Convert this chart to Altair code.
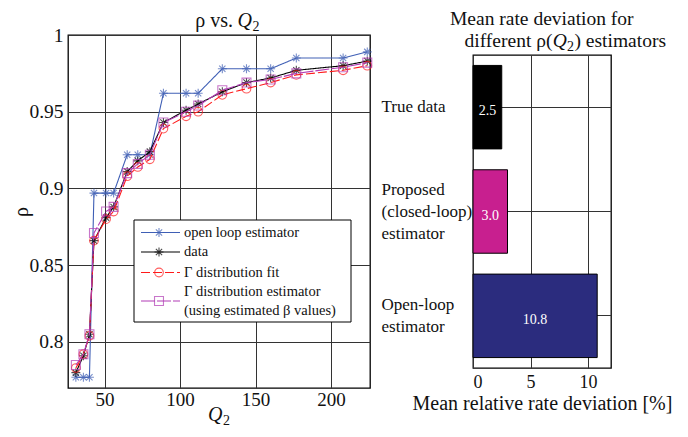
import altair as alt
import pandas as pd

FONT = "Liberation Serif"

# ---------------- data: left panel ----------------
q2 = [31, 36, 40, 43, 51, 56, 65, 72, 80, 89, 104, 112, 128, 144, 160, 177, 208, 224]
open_loop = [0.777, 0.777, 0.777, 0.897, 0.897, 0.897, 0.922, 0.922, 0.922,
             0.962, 0.962, 0.962, 0.978, 0.978, 0.978, 0.985, 0.985, 0.989]
data_rho = [0.780, 0.791, 0.805, 0.866, 0.881, 0.888, 0.911, 0.918, 0.924,
            0.943, 0.951, 0.955, 0.963, 0.969, 0.972, 0.977, 0.980, 0.983]
gamma_fit = [0.783, 0.792, 0.804, 0.866, 0.880, 0.885, 0.908, 0.914, 0.919,
             0.939, 0.947, 0.950, 0.961, 0.965, 0.969, 0.974, 0.977, 0.980]
gamma_est = [0.785, 0.792, 0.805, 0.871, 0.885, 0.888, 0.910, 0.916, 0.922,
             0.943, 0.950, 0.954, 0.964, 0.969, 0.971, 0.975, 0.979, 0.982]

series_names = ["open loop estimator", "data", "Γ distribution fit",
                "Γ distribution estimator"]
series_colors = ["#3f5fb5", "#000000", "#ff1a1a", "#b23db5"]
series_dash = [[1, 0], [1, 0], [9, 3], [14, 2]]

# ---------------- data: right panel ----------------
bar_labels = ["True data", "Proposed|(closed-loop)|estimator", "Open-loop|estimator"]
bar_values = [2.5, 3.0, 10.8]
bar_colors = ["#000000", "#c81f8f", "#2b2c7e"]

STAR = "M-1,0L1,0M0,-1L0,1M-0.7,-0.7L0.7,0.7M-0.7,0.7L0.7,-0.7"
shapes = [STAR, STAR, "circle", "square"]
sizes = [80, 80, 75, 80]

one = alt.Data(values=[{"a": 1}])


def txt(t, x, y, size, align="left", style="normal", baseline="alphabetic",
        color="#111", angle=0):
    return alt.Chart(one).mark_text(
        text=t, align=align, baseline=baseline, font=FONT, fontSize=size,
        fontStyle=style, color=color, angle=angle).encode(
        x=alt.value(x), y=alt.value(y))


x_scale = alt.Scale(domain=[25.8, 225.8], nice=False, zero=False)
y_scale = alt.Scale(domain=[0.77, 1.0], nice=False, zero=False)
x_axis = alt.Axis(values=[50, 100, 150, 200], title=None, labelFontSize=19,
                  labelPadding=2)
y_axis = alt.Axis(values=[0.8, 0.85, 0.9, 0.95, 1.0], format=".2~f", title=None,
                  labelFontSize=19.5, labelPadding=5)
X = alt.X("Q2:Q", scale=x_scale, axis=x_axis)
Y = alt.Y("rho:Q", scale=y_scale, axis=y_axis)

layers = []
all_series = [open_loop, data_rho, gamma_fit, gamma_est]
for i, (name, vals) in enumerate(zip(series_names, all_series)):
    df = pd.DataFrame({"Q2": q2, "rho": vals, "series": name})
    base = alt.Chart(df)
    line = base.mark_line(color=series_colors[i], strokeWidth=1.1,
                          strokeDash=series_dash[i]).encode(x=X, y=Y)
    pts = base.mark_point(shape=shapes[i], size=sizes[i], filled=False,
                          color=series_colors[i], strokeWidth=1.1).encode(x=X, y=Y)
    layers += [line, pts]

# ---------------- legend (drawn inside the plot) ----------------
leg_box = alt.Chart(one).mark_rect(fill="white", stroke="black", strokeWidth=1).encode(
    x=alt.value(66), x2=alt.value(283), y=alt.value(185), y2=alt.value(287))
layers.append(leg_box)
marker_y = [197.5, 217, 237.5, 266]
for i in range(4):
    layers.append(alt.Chart(one).mark_rule(color=series_colors[i], strokeWidth=1.1,
                                           strokeDash=series_dash[i]).encode(
        x=alt.value(73), x2=alt.value(112), y=alt.value(marker_y[i])))
    layers.append(alt.Chart(one).mark_point(shape=shapes[i], size=sizes[i], filled=False,
                                            color=series_colors[i], strokeWidth=1.1).encode(
        x=alt.value(91), y=alt.value(marker_y[i])))
legend_text = ["open loop estimator", "data", "Γ distribution fit",
               "Γ distribution estimator", "(using estimated β values)"]
text_y = [197.5, 217, 237.5, 256.5, 275.5]
for t, yy in zip(legend_text, text_y):
    layers.append(txt(t, 116, yy, 14.5, baseline="middle"))

# titles of the left panel
layers += [
    txt("ρ vs.", 165, -8.5, 20, align="right"),
    txt("Q", 169.5, -8.5, 20, style="italic"),
    txt("2", 184.5, -4.5, 14),
    txt("Q", 140, 385.5, 20, style="italic"),
    txt("2", 155, 389.5, 14),
    txt("ρ", -46.5, 177, 20, align="center", baseline="middle", angle=270),
]

left = alt.layer(*layers).properties(width=302, height=353)

# ---------------- right panel ----------------
bdf = pd.DataFrame({"cat": bar_labels, "val": bar_values})
rbase = alt.Chart(bdf)
label_shift = {
    "condition": [
        {"test": "indexof(datum.value, 'Proposed') >= 0", "value": -22},
        {"test": "indexof(datum.value, 'Open') >= 0", "value": -11},
    ],
    "value": 0,
}
y_band = alt.Y("cat:N", sort=bar_labels,
               scale=alt.Scale(paddingInner=0.2, paddingOuter=0.1),
               axis=alt.Axis(title=None, labelExpr="split(datum.label, '|')",
                             labelAlign="left", labelPadding=92, ticks=False,
                             labelFontSize=17, labelLineHeight=22, domain=False,
                             labelBaseline="middle", labelOffset=label_shift))
x_bar = alt.X("val:Q", scale=alt.Scale(domain=[0, 12], nice=False),
              axis=alt.Axis(values=[0, 5, 10], title="Mean relative rate deviation [%]",
                            labelFontSize=18, labelPadding=5, titleFontSize=20,
                            titlePadding=2))
bars = rbase.mark_bar(stroke="black", strokeWidth=1).encode(
    x=x_bar, y=y_band,
    color=alt.Color("cat:N", scale=alt.Scale(domain=bar_labels, range=bar_colors),
                    legend=None))
labels = rbase.transform_calculate(mid="datum.val / 2").mark_text(
    color="white", font=FONT, fontSize=14, baseline="middle", dy=4).encode(
    x=alt.X("mid:Q", scale=alt.Scale(domain=[0, 12], nice=False)),
    y=alt.Y("cat:N", sort=bar_labels), text=alt.Text("val:Q", format=".1f"))

rtitle = [
    txt("Mean rate deviation for", 68.8, -30.0, 19.5, align="center"),
    txt("different ρ(", 79.4, -8.3, 19.5, align="right"),
    txt("Q", 79.8, -8.3, 19.5, style="italic"),
    txt("2", 94.0, -4.3, 14),
    txt(") estimators", 101.5, -8.3, 19.5),
]

right = alt.layer(bars, labels, *rtitle).properties(width=138, height=313)

chart = alt.hconcat(left, right, spacing=103, bounds="flush", center=True).configure(
    font=FONT, padding={"left": 2, "top": 0, "right": 5, "bottom": 5}
).configure_view(stroke="black", strokeWidth=1.3).configure_axis(
    labelFont=FONT, titleFont=FONT, labelFontSize=17, titleFontSize=18,
    labelColor="#111", titleColor="#111", titleFontWeight="normal",
    grid=True, gridColor="#333", gridWidth=1, gridOpacity=1,
    domain=False, ticks=False, labelPadding=4, titlePadding=4
)

chart.save("out.html", embed_options={"renderer": "svg", "actions": False})
